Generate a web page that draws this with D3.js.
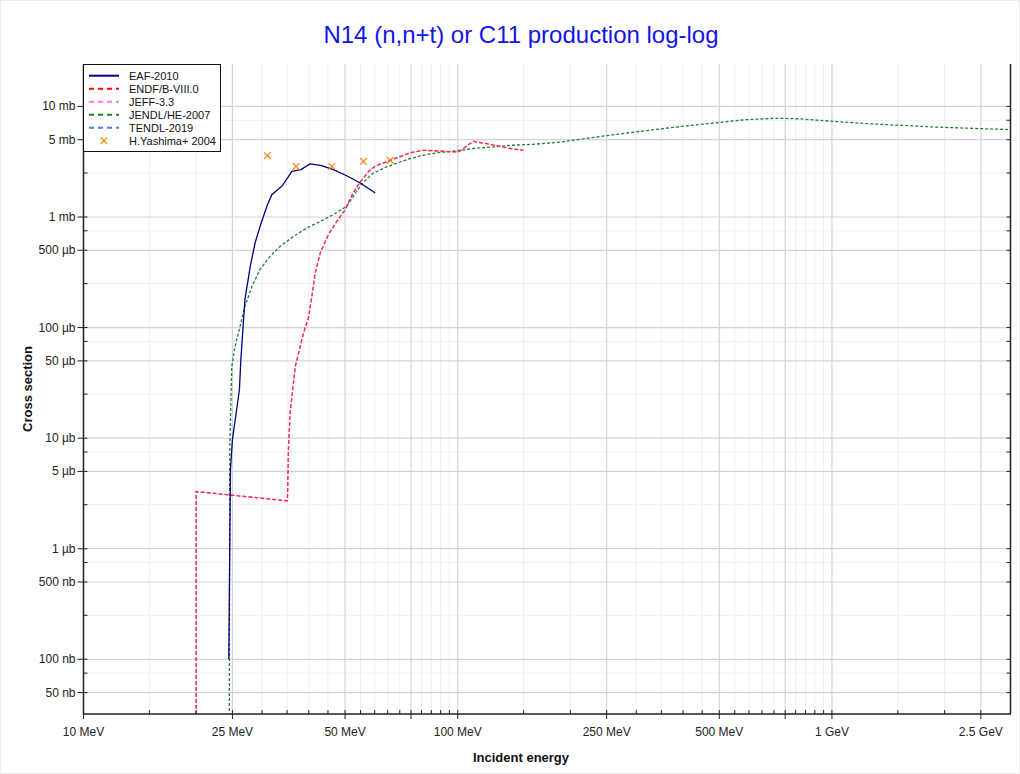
<!DOCTYPE html>
<html>
<head>
<meta charset="utf-8">
<script src="https://cdn.jsdelivr.net/npm/d3@7"></script>
<style>
  html, body { margin: 0; padding: 0; background: #fff; }
  svg { display: block; font-family: "Liberation Sans", Arial, sans-serif; }
</style>
</head>
<body>
<svg id="chart" width="1020" height="774"></svg>
<script>
// ---------------- DATA (energy in MeV, cross section in mb) ----------------
const eafEnergy = [24.45, 24.7, 25.0, 26.1, 26.33, 27.0, 27.9, 28.75, 29.64, 30.9, 31.86, 34.0, 36.05, 38.1, 40.3, 43.3, 46.5, 50.5, 54.9, 60.2];
const eafXs     = [1.0e-4, 5.2e-3, 9.7e-3, 0.0274, 0.0511, 0.179, 0.357, 0.585, 0.822, 1.25, 1.59, 1.92, 2.59, 2.68, 3.02, 2.91, 2.68, 2.36, 2.03, 1.65];

const endfEnergy = [20.0, 20.0, 35.07, 35.3, 35.65, 36.8, 38.7, 39.9, 40.75, 41.6, 42.9, 45.1, 47.5, 50.0, 52.3, 54.9, 57.9, 60.3, 66.7, 74.5, 80.5, 86.1, 93.5, 100.4, 110.1, 119.6, 129.8, 140.9, 149.8];
const endfXs     = [1.0e-7, 3.29e-3, 2.71e-3, 8.1e-3, 0.0169, 0.0445, 0.089, 0.122, 0.191, 0.311, 0.472, 0.692, 0.912, 1.16, 1.6, 2.08, 2.6, 2.9, 3.3, 3.8, 4.01, 3.98, 3.9, 3.87, 4.83, 4.6, 4.35, 4.12, 4.01];

const jeffEnergy = [20.0, 20.0, 35.07, 35.3, 35.65, 36.8, 38.7, 39.9, 40.75, 41.6, 42.9, 45.1, 47.5, 50.0, 52.3, 54.9, 57.9, 60.3, 66.7, 74.5, 80.5, 86.1, 93.5, 100.4, 110.1, 119.6, 129.8, 140.9, 149.8];
const jeffXs     = [1.0e-7, 3.29e-3, 2.71e-3, 8.1e-3, 0.0169, 0.0445, 0.089, 0.122, 0.191, 0.311, 0.472, 0.692, 0.912, 1.16, 1.6, 2.08, 2.6, 2.9, 3.3, 3.8, 4.01, 3.98, 3.9, 3.87, 4.83, 4.6, 4.35, 4.12, 4.01];

const jendlEnergy = [24.45, 24.6, 24.9, 25.4, 26.2, 27.0, 28.2, 29.6, 31.5, 33.5, 36.4, 39.5, 42.9, 46.5, 50.5, 53.0, 55.4, 59.5, 64.7, 73.0, 80.0, 89.7, 99.5, 112.5, 124.6, 138, 159.4, 187.8, 201.8, 250, 307, 377, 502, 592, 698, 742, 822, 1009, 1239, 1521, 1867, 2489, 3012];
const jendlXs     = [1.0e-7, 8.0e-3, 0.0445, 0.0675, 0.102, 0.155, 0.236, 0.334, 0.44, 0.542, 0.668, 0.795, 0.912, 1.05, 1.25, 1.6, 2.0, 2.5, 2.85, 3.3, 3.6, 3.85, 3.97, 4.2, 4.3, 4.45, 4.55, 4.75, 4.93, 5.44, 5.95, 6.47, 7.18, 7.6, 7.8, 7.8, 7.71, 7.33, 6.99, 6.75, 6.52, 6.3, 6.17];

const tendlEnergy = [];
const tendlXs     = [];

const yashimaEnergy = [31.0, 37.0, 46.1, 56.0, 66.0];
const yashimaXs     = [3.59, 2.87, 2.87, 3.19, 3.25];

const xTickValues = [10, 25, 50, 100, 250, 500, 1000, 2500];
const xTickLabels = ["10 MeV", "25 MeV", "50 MeV", "100 MeV", "250 MeV", "500 MeV", "1 GeV", "2.5 GeV"];
const yTickValues = [10, 5, 1, 0.5, 0.1, 0.05, 0.01, 0.005, 0.001, 0.0005, 0.0001, 0.00005];
const yTickLabels = ["10 mb", "5 mb", "1 mb", "500 µb", "100 µb", "50 µb", "10 µb", "5 µb", "1 µb", "500 nb", "100 nb", "50 nb"];

const seriesNames = ["EAF-2010", "ENDF/B-VIII.0", "JEFF-3.3", "JENDL/HE-2007", "TENDL-2019", "H.Yashima+ 2004"];

// ---------------- LAYOUT ----------------
const W = 1020, H = 774;
const L = 83.5, R = 1010.5, T = 64, B = 714;
const svg = d3.select("#chart");

svg.append("rect").attr("x", 0.5).attr("y", 0.5).attr("width", W - 1).attr("height", H - 1)
  .attr("fill", "#fff").attr("stroke", "#ececec");

const x = d3.scaleLog().domain([10, 3000]).range([L, R]);
const y = d3.scaleLog().domain([3.2e-5, 24.2]).range([B, T]);

// tick sets
const xMinor = [], xMajor = [];
for (let dec = 10; dec <= 1000; dec *= 10) {
  for (let k = 1; k < 10; k += 0.5) {
    const v = k * dec;
    if (v > 3000) continue;
    if ([1, 2.5, 5, 7.5].includes(k)) xMajor.push(v); else xMinor.push(v);
  }
}
const yMinor = [], yMajor = [];
for (let e = -5; e <= 1; e++) {
  const dec = Math.pow(10, e);
  [1, 2.5, 5, 7.5].forEach(k => {
    const v = k * dec;
    if (v < 3.2e-5 || v > 24.2) return;
    if (k === 1 || k === 5) yMajor.push(v); else yMinor.push(v);
  });
}

// grid
const grid = svg.append("g");
grid.selectAll(".xgm").data(xMinor).join("line")
  .attr("x1", d => x(d)).attr("x2", d => x(d)).attr("y1", T).attr("y2", B)
  .attr("stroke", "#efefef").attr("stroke-width", 1);
grid.selectAll(".ygm").data(yMinor).join("line")
  .attr("x1", L).attr("x2", R).attr("y1", d => y(d)).attr("y2", d => y(d))
  .attr("stroke", "#efefef").attr("stroke-width", 1);
grid.selectAll(".xgM").data(xMajor).join("line")
  .attr("x1", d => x(d)).attr("x2", d => x(d)).attr("y1", T).attr("y2", B)
  .attr("stroke", "#d4d4d4").attr("stroke-width", 1.2);
grid.selectAll(".ygM").data(yMajor).join("line")
  .attr("x1", L).attr("x2", R).attr("y1", d => y(d)).attr("y2", d => y(d))
  .attr("stroke", "#d4d4d4").attr("stroke-width", 1.2);

// clip
svg.append("clipPath").attr("id", "clip").append("rect")
  .attr("x", L).attr("y", T).attr("width", R - L).attr("height", B - T);
const plot = svg.append("g").attr("clip-path", "url(#clip)");

const line = d3.line().x(d => x(d[0])).y(d => y(d[1]));
const zip = (a, b) => a.map((v, i) => [v, b[i]]);

plot.append("path").datum(zip(tendlEnergy, tendlXs)).attr("d", line)
  .attr("fill", "none").attr("stroke", "#4a7dff").attr("stroke-width", 1.3).attr("stroke-dasharray", "4,2");
plot.append("path").datum(zip(jendlEnergy, jendlXs)).attr("d", line)
  .attr("fill", "none").attr("stroke", "#1f7f2f").attr("stroke-width", 1.3).attr("stroke-dasharray", "3,2");
plot.append("path").datum(zip(endfEnergy, endfXs)).attr("d", line)
  .attr("fill", "none").attr("stroke", "#ff0000").attr("stroke-width", 1.3).attr("stroke-dasharray", "4,2");
plot.append("path").datum(zip(jeffEnergy, jeffXs)).attr("d", line)
  .attr("fill", "none").attr("stroke", "#ff55cc").attr("stroke-opacity", 0.45).attr("stroke-width", 1.3).attr("stroke-dasharray", "4,2");
plot.append("path").datum(zip(eafEnergy, eafXs)).attr("d", line)
  .attr("fill", "none").attr("stroke", "#000080").attr("stroke-width", 1.3);

const cross = d3.symbol().type(d3.symbolX).size(30);
plot.selectAll(".yash").data(zip(yashimaEnergy, yashimaXs)).join("path")
  .attr("transform", d => `translate(${x(d[0])},${y(d[1])})`)
  .attr("d", cross).attr("fill", "none").attr("stroke", "#ff7f0e").attr("stroke-width", 1.2);

// axes lines
const ax = svg.append("g").attr("stroke", "#222").attr("fill", "none");
ax.append("line").attr("x1", L).attr("x2", L).attr("y1", T).attr("y2", B + 0.5).attr("stroke-width", 1.5);
ax.append("line").attr("x1", L).attr("x2", R + 0.5).attr("y1", B).attr("y2", B).attr("stroke-width", 1.5);
ax.append("line").attr("x1", R).attr("x2", R).attr("y1", T).attr("y2", B).attr("stroke-width", 1.5);

// x ticks
const allX = xMajor.concat(xMinor);
ax.selectAll(".xti").data(allX).join("line")
  .attr("x1", d => x(d)).attr("x2", d => x(d)).attr("y1", B).attr("y2", B - 4).attr("stroke-width", 1);
ax.selectAll(".xto").data(xMajor).join("line")
  .attr("x1", d => x(d)).attr("x2", d => x(d)).attr("y1", B).attr("y2", B + 5).attr("stroke-width", 1);
// y ticks
const allY = yMajor.concat(yMinor);
ax.selectAll(".yti").data(allY).join("line")
  .attr("x1", L).attr("x2", L + 4).attr("y1", d => y(d)).attr("y2", d => y(d)).attr("stroke-width", 1);
ax.selectAll(".yto").data(yMajor).join("line")
  .attr("x1", L - 6).attr("x2", L).attr("y1", d => y(d)).attr("y2", d => y(d)).attr("stroke-width", 1);
ax.selectAll(".yri").data(allY).join("line")
  .attr("x1", R - 4).attr("x2", R).attr("y1", d => y(d)).attr("y2", d => y(d)).attr("stroke-width", 1);

// tick labels
svg.selectAll(".xl").data(xTickValues).join("text")
  .attr("x", d => x(d)).attr("y", B + 22).attr("text-anchor", "middle")
  .attr("font-size", 12).attr("fill", "#222").text((d, i) => xTickLabels[i]);
svg.selectAll(".yl").data(yTickValues).join("text")
  .attr("x", L - 8).attr("y", d => y(d) + 4).attr("text-anchor", "end")
  .attr("font-size", 12).attr("fill", "#222").text((d, i) => yTickLabels[i]);

// axis titles
svg.append("text").attr("x", 521).attr("y", 762).attr("text-anchor", "middle")
  .attr("font-size", 13).attr("font-weight", "bold").attr("fill", "#111").text("Incident energy");
svg.append("text").attr("transform", "translate(32,389) rotate(-90)").attr("text-anchor", "middle")
  .attr("font-size", 13).attr("font-weight", "bold").attr("fill", "#111").text("Cross section");

// title
svg.append("text").attr("x", 521).attr("y", 43).attr("text-anchor", "middle")
  .attr("font-size", 24).attr("fill", "#1414e6").text("N14 (n,n+t) or C11 production log-log");

// legend
const lg = svg.append("g");
lg.append("rect").attr("x", 83.5).attr("y", 64.5).attr("width", 137).attr("height", 87)
  .attr("fill", "#fff").attr("stroke", "#111").attr("stroke-width", 1);
const legendStyles = [
  { color: "#000080", dash: null },
  { color: "#ff0000", dash: "5,4" },
  { color: "#ff77ee", dash: "5,4" },
  { color: "#1f7f2f", dash: "5,4" },
  { color: "#4a7dff", dash: "5,4" },
  { color: "#ff7f0e", marker: true }
];
seriesNames.forEach((name, i) => {
  const cy = 75.7 + i * 13;
  const s = legendStyles[i];
  if (s.marker) {
    lg.append("path").attr("transform", `translate(104,${cy})`).attr("d", cross)
      .attr("fill", "none").attr("stroke", s.color).attr("stroke-width", 1.2);
  } else {
    lg.append("line").attr("x1", 89).attr("x2", 119).attr("y1", cy).attr("y2", cy)
      .attr("stroke", s.color).attr("stroke-width", 2).attr("stroke-dasharray", s.dash);
  }
  lg.append("text").attr("x", 129).attr("y", cy + 4).attr("font-size", 11).attr("fill", "#111").text(name);
});
</script>
</body>
</html>
